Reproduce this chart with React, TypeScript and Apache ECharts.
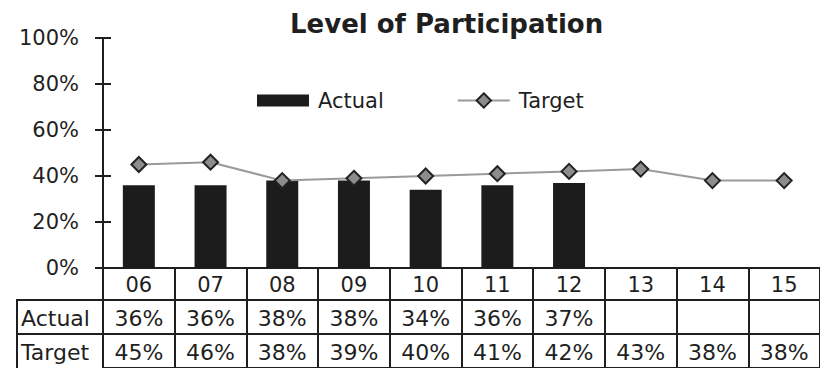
import React, { useEffect, useRef } from "react";
import * as echarts from "echarts";

// Participation by year (percent)
const categories = ["06", "07", "08", "09", "10", "11", "12", "13", "14", "15"];
const actual: (number | null)[] = [36, 36, 38, 38, 34, 36, 37, null, null, null];
const target: number[] = [45, 46, 38, 39, 40, 41, 42, 43, 38, 38];
const tableRows = ["Actual", "Target"];

const FONT = "DejaVu Sans";
const INK = "#1f1f1f";

// Plot-area geometry shared by the axes and the table drawn beneath them
const H = 368;
const GRID_LEFT = 103;
const GRID_RIGHT = -4;
const GRID_TOP = 38;
const AXIS_Y = 268;
const ROW1_Y = 300;
const ROW2_Y = 334;
const STUB_LEFT = 17;

// legend swatch for the bars: a 52x12 block centred in a 52x18 icon box
const BAR_ICON = "path://M0,0M0,3L52,3L52,15L0,15ZM52,18";

const pct = (v: number | null) => (v == null ? "" : `${v}%`);

export default function App() {
  const ref = useRef<HTMLDivElement>(null);

  useEffect(() => {
    if (!ref.current) return;
    const chart = echarts.init(ref.current, null, { renderer: "svg" });

    const lineStyle = { color: INK, width: 2 };

    // one table row: a category axis along the row's top border; its split lines are the cell dividers
    const rowAxis = (gridIndex: number, margin: number, size: number, fmt: (v: string, i: number) => string) => ({
      type: "category",
      data: categories,
      gridIndex,
      position: "top",
      boundaryGap: true,
      axisLine: { show: true, lineStyle },
      axisTick: { show: false },
      axisLabel: {
        interval: 0,
        inside: true,
        margin,
        verticalAlign: "middle",
        fontFamily: FONT,
        fontSize: size,
        color: INK,
        formatter: fmt,
      },
      splitLine: { show: true, interval: 0, lineStyle },
    });

    const rowGrid = (top: number, height: number) => ({
      left: GRID_LEFT,
      right: GRID_RIGHT,
      top,
      height,
      containLabel: false,
    });

    const hiddenY = (gridIndex: number) => ({
      type: "value",
      gridIndex,
      show: false,
      min: 0,
      max: 1,
      splitLine: { show: false },
    });

    chart.setOption({
      animation: false,
      backgroundColor: "#ffffff",
      textStyle: { fontFamily: FONT, color: INK },
      title: {
        text: "Level of Participation",
        left: 290,
        top: 11,
        padding: 0,
        textStyle: { fontFamily: FONT, fontWeight: "bold", fontSize: 26, color: INK },
      },
      legend: {
        left: 257,
        top: 90,
        itemWidth: 52,
        itemHeight: 18,
        itemGap: 73,
        padding: 0,
        textStyle: { fontFamily: FONT, fontSize: 21, color: INK, padding: [0, 0, 0, 4] },
        data: [{ name: "Actual", icon: BAR_ICON }, { name: "Target" }],
      },
      grid: [
        { left: GRID_LEFT, right: GRID_RIGHT, top: GRID_TOP, bottom: H - AXIS_Y, containLabel: false },
        rowGrid(AXIS_Y, ROW1_Y - AXIS_Y),
        rowGrid(ROW1_Y, ROW2_Y - ROW1_Y),
        rowGrid(ROW2_Y, H - ROW2_Y + 4),
      ],
      xAxis: [
        {
          type: "category",
          data: categories,
          gridIndex: 0,
          position: "bottom",
          boundaryGap: true,
          axisLine: { show: true, lineStyle },
          axisTick: { show: false },
          axisLabel: { show: false },
          splitLine: { show: false },
        },
        rowAxis(1, 17, 21, (v) => v),
        rowAxis(2, 18, 22, (_v, i) => pct(actual[i])),
        rowAxis(3, 18, 22, (_v, i) => pct(target[i])),
      ],
      yAxis: [
        {
          type: "value",
          gridIndex: 0,
          min: 0,
          max: 100,
          interval: 20,
          axisLine: { show: true, lineStyle },
          axisTick: { show: true, inside: false, length: 8, lineStyle },
          axisLabel: {
            margin: 24,
            fontFamily: FONT,
            fontSize: 21,
            color: INK,
            formatter: "{value}%",
          },
          splitLine: { show: false },
        },
        {
          type: "value",
          gridIndex: 0,
          min: 0,
          max: 100,
          interval: 20,
          position: "left",
          axisLine: { show: false },
          axisTick: { show: true, inside: true, length: 8, lineStyle },
          axisLabel: { show: false },
          splitLine: { show: false },
        },
        hiddenY(1),
        hiddenY(2),
        hiddenY(3),
      ],
      series: [
        {
          name: "Actual",
          type: "bar",
          xAxisIndex: 0,
          yAxisIndex: 0,
          data: actual,
          barWidth: 32,
          itemStyle: { color: "#1c1c1c" },
        },
        {
          name: "Target",
          type: "line",
          xAxisIndex: 0,
          yAxisIndex: 0,
          data: target,
          symbol: "diamond",
          symbolSize: 15,
          lineStyle: { color: "#9a9a9a", width: 2 },
          itemStyle: { color: "#8c8c8c", borderColor: "#222222", borderWidth: 2 },
          z: 3,
        },
      ],
      graphic: [
        // row-header column of the data table
        { type: "line", shape: { x1: STUB_LEFT, y1: ROW1_Y, x2: GRID_LEFT, y2: ROW1_Y }, style: { stroke: INK, lineWidth: 2 } },
        { type: "line", shape: { x1: STUB_LEFT, y1: ROW2_Y, x2: GRID_LEFT, y2: ROW2_Y }, style: { stroke: INK, lineWidth: 2 } },
        { type: "line", shape: { x1: STUB_LEFT, y1: ROW1_Y - 1, x2: STUB_LEFT, y2: H + 2 }, style: { stroke: INK, lineWidth: 2 } },
        { type: "line", shape: { x1: GRID_LEFT, y1: AXIS_Y, x2: GRID_LEFT, y2: H + 2 }, style: { stroke: INK, lineWidth: 2 } },
        ...tableRows.map((name, i) => ({
          type: "text",
          x: STUB_LEFT + 4,
          y: i === 0 ? (ROW1_Y + ROW2_Y) / 2 + 1 : ROW2_Y + 18,
          style: {
            text: name,
            fontFamily: FONT,
            fontSize: 22,
            fill: INK,
            verticalAlign: "middle",
            align: "left",
          },
        })),
      ],
    });

    return () => chart.dispose();
  }, []);

  return (
    <div
      ref={ref}
      style={{ position: "fixed", left: 0, top: 0, width: 820, height: 368, background: "#fff" }}
    />
  );
}
